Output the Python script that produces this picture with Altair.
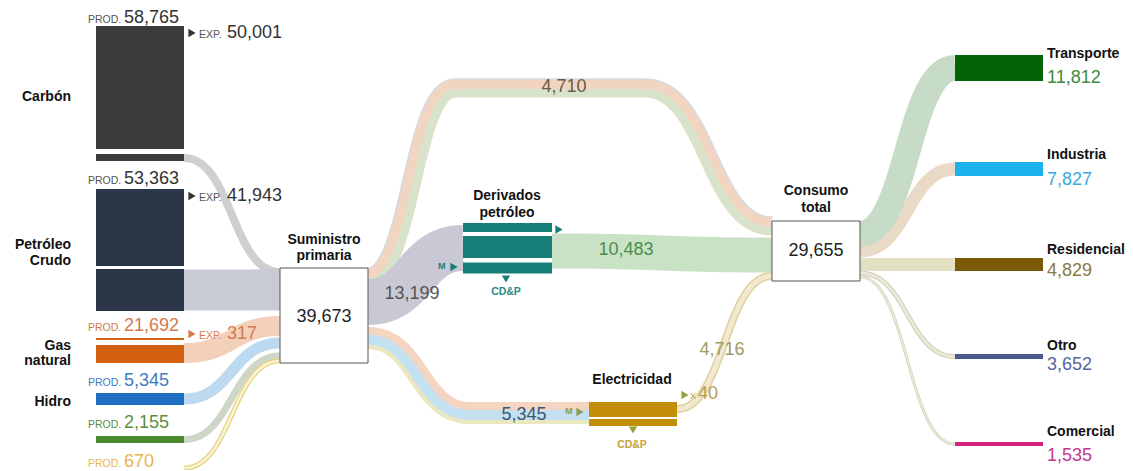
import altair as alt
import numpy as np
import pandas as pd

FONT = "Liberation Sans"

# ---------------- data ----------------
source_names = [["Carbón"], ["Petróleo", "Crudo"], ["Gas", "natural"], ["Hidro"], [], []]
source_prod = [58765, 53363, 21692, 5345, 2155, 670]
source_exp = [50001, 41943, 317]
supply_total = 39673
derivados_in = 13199
derivados_out = 10483
electricidad_in = 5345
electricidad_out = 4716
electricidad_exp = 40
direct_use = 4710
consumo_total = 29655
sector_names = ["Transporte", "Industria", "Residencial", "Otro", "Comercial"]
sector_values = [11812, 7827, 4829, 3652, 1535]

# ---------------- layout (pixel positions / sizes / styles) ----------------
SRC_X = (96, 184)
src_bars = [[(26, 149), (154, 161)], [(189, 266), (269, 311)], [(338, 340), (345, 363)],
            [(393, 405)], [(436, 443)], []]
src_colors = ["#3b3b3b", "#2c3649", "#d4610f", "#1f6fc3", "#4c8a2e", "#e9bd55"]
src_text_colors = ["#333333", "#333333", "#d47a4c", "#3c7cc4", "#5b8f40", "#e8b54a"]
src_prod_y = [17.5, 179, 326, 381, 423, 462]
src_exp_y = [33, 196, 334]
src_label_y = [[97], [245, 261], [346, 361], [402], [], []]

SUP_BOX = (280, 368, 268, 363)
CON_BOX = (772, 860, 221, 281)
DER_X = (463, 552)
der_bars = [(223, 232), (236, 258), (262.5, 273.5)]
ELE_X = (589, 677)
ele_bars = [(402, 417), (419, 426)]
SEC_X = (955, 1043)
sec_bars = [(55, 81), (162, 176), (258, 271), (354, 359), (442, 446)]
sec_colors = ["#056205", "#1db1ec", "#7a5a06", "#4a5a8b", "#d3217c"]
sec_text_colors = ["#3f8b3f", "#38a9df", "#8b7a3d", "#5666a0", "#c2388c"]
sec_label_y = [54, 155, 250, 346, 432]
sec_value_y = [78, 179.5, 271, 364.5, 456]
TEAL = "#147e77"
GOLD = "#c48f08"

flows = [
    # sources -> suministro
    dict(wp=[(184, 158), (280, 272)], w=8, c="#cfcfcf"),
    dict(wp=[(184, 290), (280, 290)], w=41, c="#c8cad4"),
    dict(wp=[(184, 353), (280, 326)], w=20, c="#f3d0ba"),
    dict(wp=[(184, 399), (280, 343)], w=11, c="#bdd9ef"),
    dict(wp=[(184, 439.5), (280, 356)], w=7, c="#cdd6c7"),
    dict(wp=[(184, 468), (280, 361)], w=5, c="#e6d27e", st=[(0, 2.5, "#faf3d6")]),
    # suministro -> consumo (direct), derivados, electricidad
    dict(wp=[(368, 277), (455, 88), (645, 88), (772, 226)], w=19, c="#f1d5c1",
         st=[(5, 8, "#d7e4cb"), (-8.8, 1.4, "#d3dbe6")]),
    dict(wp=[(368, 302), (463, 248)], w=46, c="#c9c9d6"),
    dict(wp=[(368, 338), (470, 413), (589, 413)], w=22, c="#f3d5c2",
         st=[(2, 10, "#c3e1f1"), (9, 4, "#e9e8bf")]),
    dict(wp=[(552, 251), (772, 255)], w=35, c="#c9e1c5"),
    dict(wp=[(677, 409), (772, 276)], w=8, c="#ddd09b", st=[(0, 5, "#f1ead0")]),
    # consumo -> sectors
    dict(wp=[(860, 277), (955, 444)], w=3, c="#d2d2bb", st=[(0, 1.2, "#efefe4")]),
    dict(wp=[(860, 273), (955, 356.5)], w=5, c="#d5d4bb", st=[(0, 2.5, "#ebeadb")]),
    dict(wp=[(860, 264.5), (955, 264.5)], w=13, c="#e3e0c4"),
    dict(wp=[(860, 251), (955, 169)], w=13, c="#e9dac7"),
    dict(wp=[(860, 234), (955, 68)], w=26, c="#c7dcc6"),
]

xs = alt.Scale(domain=[8, 1125], nice=False, zero=False)
ys = alt.Scale(domain=[8, 470], nice=False, zero=False, reverse=True)


def seg(p0, p1, n=60):
    (x0, y0), (x1, y1) = p0, p1
    t = np.linspace(0, 1, n)
    xm = (x0 + x1) / 2
    bx = (1 - t) ** 3 * x0 + 3 * (1 - t) ** 2 * t * xm + 3 * (1 - t) * t ** 2 * xm + t ** 3 * x1
    by = (1 - t) ** 3 * y0 + 3 * (1 - t) ** 2 * t * y0 + 3 * (1 - t) * t ** 2 * y1 + t ** 3 * y1
    return bx, by


def path(wp):
    X, Y = [], []
    for a, b in zip(wp[:-1], wp[1:]):
        bx, by = seg(a, b)
        if X:
            bx, by = bx[1:], by[1:]
        X.extend(bx)
        Y.extend(by)
    return np.array(X), np.array(Y)


def offset(X, Y, d):
    tx, ty = np.gradient(X), np.gradient(Y)
    nrm = np.hypot(tx, ty)
    nrm[nrm == 0] = 1
    nx, ny = -ty / nrm, tx / nrm
    return X + d * nx, Y + d * ny


layers = []


def line_layer(X, Y, w, c):
    df = pd.DataFrame({"x": X, "y": Y, "i": np.arange(len(X))})
    return alt.Chart(df).mark_line(color=c, strokeWidth=w, strokeCap="butt").encode(
        x=alt.X("x:Q", scale=xs, axis=None),
        y=alt.Y("y:Q", scale=ys, axis=None),
        order="i:Q",
    )


for f in flows:
    X, Y = path(f["wp"])
    layers.append(line_layer(X, Y, f["w"], f["c"]))
    for d, w, c in f.get("st", []):
        ox, oy = offset(X, Y, d)
        layers.append(line_layer(ox, oy, w, c))

# ---------------- rectangles ----------------
rects = []
for bars, col in zip(src_bars, src_colors):
    for y0, y1 in bars:
        rects.append((SRC_X[0], SRC_X[1], y0, y1, col))
for y0, y1 in der_bars:
    rects.append((DER_X[0], DER_X[1], y0, y1, TEAL))
for y0, y1 in ele_bars:
    rects.append((ELE_X[0], ELE_X[1], y0, y1, GOLD))
for (y0, y1), col in zip(sec_bars, sec_colors):
    rects.append((SEC_X[0], SEC_X[1], y0, y1, col))
rdf = pd.DataFrame(rects, columns=["x", "x2", "y", "y2", "color"])
layers.append(alt.Chart(rdf).mark_rect().encode(
    x=alt.X("x:Q", scale=xs, axis=None), x2="x2:Q",
    y=alt.Y("y:Q", scale=ys, axis=None), y2="y2:Q",
    color=alt.Color("color:N", scale=None)))

bdf = pd.DataFrame([SUP_BOX, CON_BOX], columns=["x", "x2", "y", "y2"])
layers.append(alt.Chart(bdf).mark_rect(fill="white", stroke="#555555", strokeWidth=1).encode(
    x=alt.X("x:Q", scale=xs, axis=None), x2="x2:Q",
    y=alt.Y("y:Q", scale=ys, axis=None), y2="y2:Q"))

# ---------------- arrows ----------------
arrows = [
    (192, src_exp_y[0], "triangle-right", "#333333"),
    (192, src_exp_y[1], "triangle-right", "#333333"),
    (192, src_exp_y[2], "triangle-right", "#d47a4c"),
    (559, 229.5, "triangle-right", TEAL),
    (454, 267, "triangle-right", TEAL),
    (506, 279, "triangle-down", TEAL),
    (580, 412, "triangle-right", "#8a9f4c"),
    (685, 395, "triangle-right", "#9aa040"),
    (633, 430, "triangle-down", "#9aa040"),
]
for shape in ["triangle-right", "triangle-down"]:
    adf = pd.DataFrame([a for a in arrows if a[2] == shape], columns=["x", "y", "s", "color"])
    layers.append(alt.Chart(adf).mark_point(shape=shape, filled=True, size=70, opacity=1).encode(
        x=alt.X("x:Q", scale=xs, axis=None),
        y=alt.Y("y:Q", scale=ys, axis=None),
        color=alt.Color("color:N", scale=None)))

# ---------------- texts ----------------
texts = []


def T(x, y, text, color, size, weight="normal", align="left"):
    texts.append(dict(x=x, y=y, text=text, color=color, size=size, weight=weight, align=align))


NUM = 18
for i, v in enumerate(source_prod):
    col = src_text_colors[i]
    T(88, src_prod_y[i] + 2, "PROD.", col if i >= 2 else "#555555", 10.5)
    T(124, src_prod_y[i], f"{v:,}", col, NUM)
    for j, lab in enumerate(source_names[i]):
        T(71, src_label_y[i][j], lab, "#111111", 14, "bold", "right")
for i, v in enumerate(source_exp):
    col = src_text_colors[i]
    T(199, src_exp_y[i] + 1.5, "EXP.", col if i >= 2 else "#555555", 10.5)
    T(227, src_exp_y[i], f"{v:,}", col, NUM)

T(324, 240, "Suministro", "#111111", 14, "bold", "center")
T(324, 256, "primaria", "#111111", 14, "bold", "center")
T(324, 316.5, f"{supply_total:,}", "#222222", NUM, "normal", "center")
T(507, 196, "Derivados", "#111111", 14, "bold", "center")
T(507, 213, "petróleo", "#111111", 14, "bold", "center")
T(632, 380, "Electricidad", "#111111", 14, "bold", "center")
T(816, 191, "Consumo", "#111111", 14, "bold", "center")
T(816, 208, "total", "#111111", 14, "bold", "center")
T(816, 251, f"{consumo_total:,}", "#222222", NUM, "normal", "center")
T(564, 87, f"{direct_use:,}", "#6b5a48", NUM, "normal", "center")
T(412, 294, f"{derivados_in:,}", "#555555", NUM, "normal", "center")
T(626, 250, f"{derivados_out:,}", "#4a8f4a", NUM, "normal", "center")
T(524, 415, f"{electricidad_in:,}", "#3d5675", NUM, "normal", "center")
T(722, 350, f"{electricidad_out:,}", "#9d9d62", NUM, "normal", "center")
T(698, 394, f"{electricidad_exp:,}", "#b8a050", NUM)
T(690, 396, "X", "#b8a050", 9)
T(438, 266, "M", TEAL, 9, "bold")
T(565, 411, "M", "#8a9f4c", 9, "bold")
T(506, 292, "CD&P", "#2a8a88", 10.5, "bold", "center")
T(632, 445, "CD&P", "#c8a040", 10.5, "bold", "center")
for i, (n, v) in enumerate(zip(sector_names, sector_values)):
    T(1047, sec_label_y[i], n, "#111111", 14, "bold")
    T(1047, sec_value_y[i], f"{v:,}", sec_text_colors[i], NUM)

tdf = pd.DataFrame(texts)
for (w, a), g in tdf.groupby(["weight", "align"]):
    layers.append(alt.Chart(g).mark_text(font=FONT, fontWeight=w, align=a, baseline="middle").encode(
        x=alt.X("x:Q", scale=xs, axis=None),
        y=alt.Y("y:Q", scale=ys, axis=None),
        text="text:N",
        color=alt.Color("color:N", scale=None),
        size=alt.Size("size:Q", scale=None)))

chart = alt.layer(*layers).properties(
    width=1117, height=462, padding=0,
    autosize=alt.AutoSizeParams(type="none"),
    background="white",
).configure_view(strokeWidth=0)

chart.save("out.html", embed_options={"renderer": "svg", "actions": False})
